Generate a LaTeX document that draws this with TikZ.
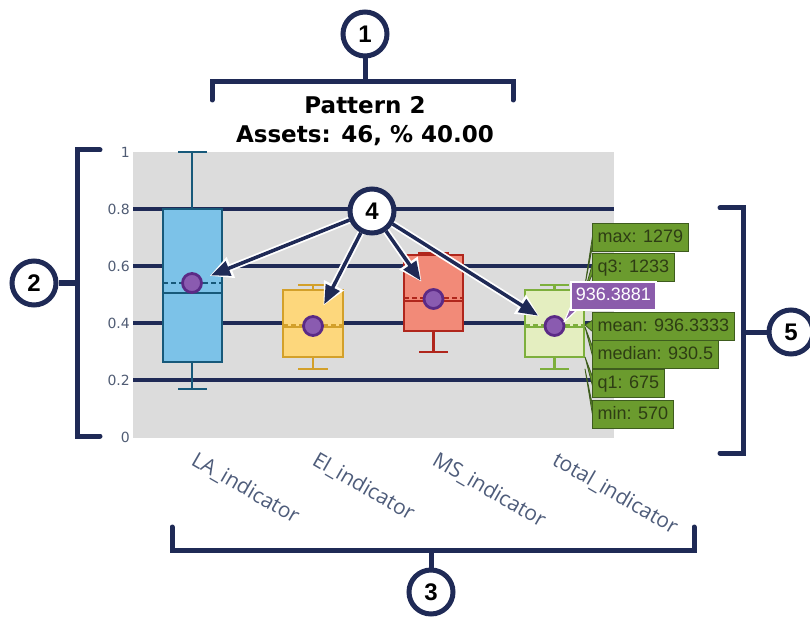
\documentclass[tikz,border=0pt]{standalone}
\usepackage{fontspec}
\setmainfont{DejaVu Sans}
\newfontfamily\titlefont{DejaVu Sans}
\newfontfamily\numfont{Liberation Sans}
\newfontfamily\catfont{Open Sans}
\newfontfamily\tipfont{Liberation Sans}
\usetikzlibrary{arrows.meta}

\definecolor{navy}{HTML}{1F2A56}
\definecolor{plotbg}{HTML}{DCDCDC}
\definecolor{ticktext}{HTML}{505C74}
\definecolor{cattext}{HTML}{4E5C7A}
\definecolor{lafill}{HTML}{7CC2E8}
\definecolor{laline}{HTML}{17597A}
\definecolor{eifill}{HTML}{FDD77C}
\definecolor{eiline}{HTML}{D3A02A}
\definecolor{msfill}{HTML}{F28A78}
\definecolor{msline}{HTML}{B0261C}
\definecolor{totfill}{HTML}{E4EEC0}
\definecolor{totline}{HTML}{7DAF3C}
\definecolor{dotfill}{HTML}{8A5BB0}
\definecolor{dotring}{HTML}{5B2A86}
\definecolor{tipgreen}{HTML}{6B9B2E}
\definecolor{tipborder}{HTML}{3E5C1E}
\definecolor{tiptext}{HTML}{2E3D14}
\definecolor{tippurple}{HTML}{8B5CAB}

\begin{document}
\begin{tikzpicture}[x=1pt,y=-1pt,
  bracket/.style={draw=navy, line width=5, line cap=round, line join=miter},
  numcircle/.style={circle, draw=navy, fill=white, line width=5, minimum size=44,
    inner sep=0, font=\numfont\bfseries\fontsize{24}{24}\selectfont},
  gridline/.style={draw=navy, line width=3.5},
  ticklab/.style={anchor=east, inner sep=0, text=ticktext, font=\fontsize{14}{14}\selectfont},
  catlab/.style={anchor=north west, inner sep=0, rotate=-30, text=cattext,
    font=\catfont\fontsize{21}{21}\selectfont},
  titlelab/.style={anchor=base, inner sep=0, font=\titlefont\bfseries\fontsize{23}{23}\selectfont},
  boxline/.style={line width=2.5},
  meanline/.style={line width=2, dash pattern=on 5pt off 3pt},
  meandot/.style={circle, fill=dotfill, draw=dotring, line width=2.8, minimum size=19, inner sep=0},
  arrowline/.style={draw=navy, line width=3.5, -{Triangle[length=19pt,width=15pt]}},
  arrowhalo/.style={draw=white, line width=7, -{Triangle[length=23pt,width=21pt]}},
  greentip/.style={anchor=west, fill=tipgreen, draw=tipborder, line width=1, text=tiptext,
    inner xsep=5, inner ysep=0, minimum height=28, text height=13, text depth=3,
    font=\tipfont\fontsize{18}{18}\selectfont},
  greenptr/.style={fill=tipgreen, draw=tipborder, line width=0.8, line join=round},
  purpletip/.style={anchor=west, fill=tippurple, draw=white, line width=1.5, text=white,
    inner xsep=5, inner ysep=0, minimum height=28, text height=13, text depth=3,
    font=\tipfont\fontsize{18}{18}\selectfont}
]
\useasboundingbox (0,0) rectangle (810,617);

% plot area and horizontal grid
\fill[plotbg] (133,152) rectangle (614,438);
\foreach \yy in {209,266,323,380} \draw[gridline] (133,\yy) -- (614,\yy);

% y tick labels
\node[ticklab] (y0) at (130,437) {0};
\node[ticklab] (y2) at (130,380) {0.2};
\node[ticklab] (y4) at (130,323) {0.4};
\node[ticklab] (y6) at (130,266) {0.6};
\node[ticklab] (y8) at (130,209) {0.8};
\node[ticklab] (y10) at (130,152) {1};

% LA_indicator box
\draw[laline, boxline] (192,152) -- (192,209) (192,362) -- (192,389)
  (178,152) -- (207,152) (178,389) -- (207,389);
\filldraw[fill=lafill, draw=laline, boxline] (163,209) rectangle (222,362);
\draw[laline, boxline] (163,293) -- (222,293);
\draw[laline, meanline] (163,283) -- (222,283);
\node[meandot] (dLA) at (192,283) {};

% EI_indicator box
\draw[eiline, boxline] (313,285) -- (313,290) (313,357) -- (313,369)
  (298,285) -- (328,285) (298,369) -- (328,369);
\filldraw[fill=eifill, draw=eiline, boxline] (283,290) rectangle (343,357);
\draw[eiline, boxline] (283,327) -- (343,327);
\draw[eiline, meanline] (283,325) -- (343,325);
\node[meandot] (dEI) at (313,326) {};

% MS_indicator box
\draw[msline, boxline] (433.5,331) -- (433.5,352) (419,352) -- (448,352);
\filldraw[fill=msfill, draw=msline, boxline] (404,255) rectangle (463,331);
\draw[msline, line width=3] (418,254) -- (449,254);
\draw[msline, boxline] (404,301) -- (463,301);
\draw[msline, meanline] (404,298) -- (463,298);
\node[meandot] (dMS) at (433.5,299) {};

% total_indicator box
\draw[totline, boxline] (554.5,285) -- (554.5,290) (554.5,357) -- (554.5,369)
  (540,285) -- (569,285) (540,369) -- (569,369);
\filldraw[fill=totfill, draw=totline, boxline] (525,290) rectangle (584,357);
\draw[totline, boxline] (525,327) -- (584,327);
\draw[totline, meanline] (525,325) -- (584,325);
\node[meandot] (dTot) at (554.5,326) {};

% hover labels of total_indicator
\draw[greenptr] (585,285) -- (593,243) -- (593,233) -- cycle;
\draw[greenptr] (585,290) -- (593,273) -- (593,262) -- cycle;
\draw[greenptr] (585,325) -- (593,320) -- (593,332) -- cycle;
\draw[greenptr] (585,327) -- (593,348) -- (593,358) -- cycle;
\draw[greenptr] (585,357) -- (593,378) -- (593,388) -- cycle;
\draw[greenptr] (585,369) -- (593,408) -- (593,418) -- cycle;
\node[greentip] (lmax) at (592,237.5) {max: 1279};
\node[greentip] (lq3) at (592,267.5) {q3: 1233};
\node[greentip] (lmean) at (592,326) {mean: 936.3333};
\node[greentip] (lmed) at (592,354) {median: 930.5};
\node[greentip] (lq1) at (592,383.5) {q1: 675};
\node[greentip] (lmin) at (592,414) {min: 570};
\draw[fill=tippurple, draw=white, line width=1.2, line join=round]
  (564,322) -- (570,308) -- (579,308) -- cycle;
\node[purpletip] (lval) at (570,296) {936.3881};

% category labels
\node[catlab] (cLA) at (198,450) {LA\_indicator};
\node[catlab] (cEI) at (319,450) {EI\_indicator};
\node[catlab] (cMS) at (439,450) {MS\_indicator};
\node[catlab] (cTot) at (559,450) {total\_indicator};

% title
\node[titlelab] (ttl1) at (365,114) {Pattern 2};
\node[titlelab] (ttl2) at (365,143) {Assets: 46, \% 40.00};

% callout 4 with arrows to the mean markers
\path (372,211) node[numcircle, draw=none, fill=none] (n4) {};
\draw[arrowhalo, shorten >=8] (n4) -- (dLA);
\draw[arrowhalo, shorten >=12] (n4) -- (dEI);
\draw[arrowhalo, shorten >=10] (n4) -- (dMS);
\draw[arrowhalo, shorten >=7] (n4) -- (dTot);
\draw[arrowline, shorten >=9.5] (n4) -- (dLA);
\draw[arrowline, shorten >=13.5] (n4) -- (dEI);
\draw[arrowline, shorten >=11.5] (n4) -- (dMS);
\draw[arrowline, shorten >=8.5] (n4) -- (dTot);
\node[numcircle] (n4c) at (n4) {4};

% bracket 1: title
\node[numcircle] (n1) at (365,34) {1};
\coordinate (b1) at (365,82);
\draw[bracket] (212,100) -- (212,82) -- (513,82) -- (513,100);
\draw[bracket, line cap=butt] (b1) -- (n1);

% bracket 2: y axis
\node[numcircle] (n2) at (34,283) {2};
\coordinate (b2) at (77,283);
\draw[bracket] (100,150) -- (77,150) -- (77,436) -- (100,436);
\draw[bracket, line cap=butt] (b2) -- (n2);

% bracket 3: categories
\node[numcircle] (n3) at (431,592) {3};
\coordinate (b3) at (431,550);
\draw[bracket] (172,527) -- (172,550) -- (694,550) -- (694,527);
\draw[bracket, line cap=butt] (b3) -- (n3);

% bracket 5: hover labels
\node[numcircle] (n5) at (791,332) {5};
\coordinate (b5) at (743,332);
\draw[bracket] (720,208) -- (743,208) -- (743,453) -- (720,453);
\draw[bracket, line cap=butt] (b5) -- (n5);
\end{tikzpicture}
\end{document}
